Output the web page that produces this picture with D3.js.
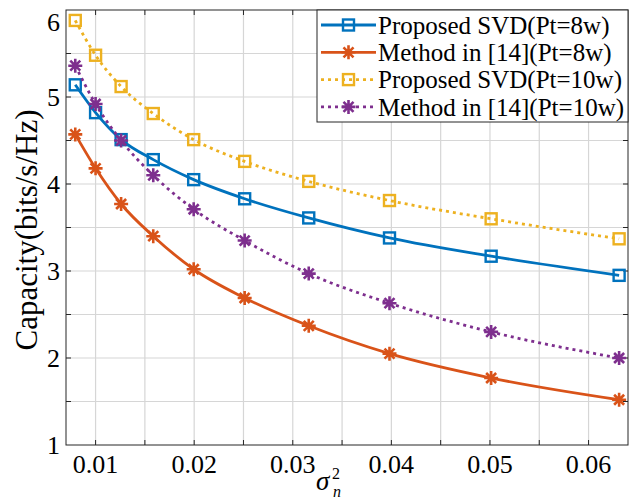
<!DOCTYPE html>
<html>
<head>
<meta charset="utf-8">
<script src="https://cdn.jsdelivr.net/npm/d3@7"></script>
<style>
  body { margin: 0; background: #fff; }
</style>
</head>
<body>
<svg id="chart" width="640" height="500"></svg>
<script>
// noise variance (sigma_n^2), 21 dB .. 12 dB
var noiseVar = [0.00794, 0.01, 0.01259, 0.01585, 0.01995, 0.02512, 0.03162, 0.03981, 0.05012, 0.0631];
var svd8  = [5.14, 4.82, 4.51, 4.28, 4.05, 3.83, 3.61, 3.38, 3.17, 2.95];
var ref8  = [4.57, 4.18, 3.77, 3.40, 3.02, 2.69, 2.37, 2.05, 1.77, 1.52];
var svd10 = [5.88, 5.48, 5.12, 4.81, 4.51, 4.26, 4.03, 3.81, 3.60, 3.37];
var ref10 = [5.36, 4.92, 4.50, 4.10, 3.71, 3.35, 2.97, 2.63, 2.30, 2.00];
var seriesNames = ["Proposed SVD(Pt=8w)", "Method in [14](Pt=8w)", "Proposed SVD(Pt=10w)", "Method in [14](Pt=10w)"];
var xTicks = [0.01, 0.02, 0.03, 0.04, 0.05, 0.06];
var yTicks = [1, 2, 3, 4, 5, 6];

var series = [
  {name: seriesNames[0], vals: svd8,  color: "#0072BD", dash: null,  marker: "square"},
  {name: seriesNames[1], vals: ref8,  color: "#D95319", dash: null,  marker: "star"},
  {name: seriesNames[2], vals: svd10, color: "#EDB120", dash: "3,4", marker: "square"},
  {name: seriesNames[3], vals: ref10, color: "#7E2F8E", dash: "3,4", marker: "star"}
];

var FONT = "Liberation Serif";
var svg = d3.select("#chart");
var L = 66, R = 628, T = 10, B = 445;

var x = d3.scaleLinear().domain([0.007, 0.064]).range([L, R]);
var y = d3.scaleLinear().domain([1, 6]).range([B, T]);

var gridX = d3.range(0.01, 0.0641, 0.005);
var gridY = d3.range(1.5, 6, 0.5);

// grid
svg.append("g").selectAll("line").data(gridX).join("line")
  .attr("x1", d => x(d)).attr("x2", d => x(d)).attr("y1", T).attr("y2", B)
  .attr("stroke", "#d6d6d6").attr("stroke-width", 1.2);
svg.append("g").selectAll("line").data(gridY).join("line")
  .attr("x1", L).attr("x2", R).attr("y1", d => y(d)).attr("y2", d => y(d))
  .attr("stroke", "#d6d6d6").attr("stroke-width", 1.2);

// inward ticks on all sides
var tk = 5;
var ticks = svg.append("g").attr("stroke", "#262626").attr("stroke-width", 1);
gridX.forEach(function(d) {
  ticks.append("line").attr("x1", x(d)).attr("x2", x(d)).attr("y1", B).attr("y2", B - tk);
  ticks.append("line").attr("x1", x(d)).attr("x2", x(d)).attr("y1", T).attr("y2", T + tk);
});
gridY.forEach(function(d) {
  ticks.append("line").attr("x1", L).attr("x2", L + tk).attr("y1", y(d)).attr("y2", y(d));
  ticks.append("line").attr("x1", R).attr("x2", R - tk).attr("y1", y(d)).attr("y2", y(d));
});

svg.append("rect").attr("x", L).attr("y", T).attr("width", R - L).attr("height", B - T)
  .attr("fill", "none").attr("stroke", "#262626").attr("stroke-width", 1);

// tick labels
svg.append("g").selectAll("text").data(xTicks).join("text")
  .attr("x", d => x(d)).attr("y", 473).attr("text-anchor", "middle")
  .attr("font-family", FONT).attr("font-size", 26).text(d => d.toFixed(2));
svg.append("g").selectAll("text").data(yTicks).join("text")
  .attr("x", 60).attr("y", d => Math.max(y(d), 22)).attr("dy", "0.35em").attr("text-anchor", "end")
  .attr("font-family", FONT).attr("font-size", 26).text(d => d);

// axis labels
svg.append("text").attr("transform", "translate(37,230) rotate(-90)")
  .attr("text-anchor", "middle").attr("font-family", FONT).attr("font-size", 31)
  .text("Capacity(bits/s/Hz)");
var xl = svg.append("g").attr("transform", "translate(316,490)");
xl.append("text").attr("font-family", FONT).attr("font-size", 27).attr("font-style", "italic").text("\u03C3");
xl.append("text").attr("x", 16).attr("y", -11).attr("font-family", FONT).attr("font-size", 16).text("2");
xl.append("text").attr("x", 17).attr("y", 7).attr("font-family", FONT).attr("font-size", 16)
  .attr("font-style", "italic").text("n");

function drawMarker(g, type, color) {
  if (type === "square") {
    g.append("rect").attr("x", -5.5).attr("y", -5.5).attr("width", 11).attr("height", 11)
      .attr("fill", "none").attr("stroke", color).attr("stroke-width", 2.4);
  } else {
    var r = 7, q = 5;
    g.append("path")
      .attr("d", "M0," + (-r) + "V" + r + "M" + (-r) + ",0H" + r +
        "M" + (-q) + "," + (-q) + "L" + q + "," + q + "M" + (-q) + "," + q + "L" + q + "," + (-q))
      .attr("stroke", color).attr("stroke-width", 2.6).attr("fill", "none");
  }
}

var line = d3.line().x((d, i) => x(noiseVar[i])).y(d => y(d)).curve(d3.curveMonotoneX);

series.forEach(function(s) {
  svg.append("path").datum(s.vals).attr("d", line)
    .attr("fill", "none").attr("stroke", s.color).attr("stroke-width", 2.8)
    .attr("stroke-dasharray", s.dash);
  s.vals.forEach(function(v, i) {
    drawMarker(svg.append("g").attr("transform", "translate(" + x(noiseVar[i]) + "," + y(v) + ")"),
      s.marker, s.color);
  });
});

// legend
var lg = svg.append("g");
lg.append("rect").attr("x", 317).attr("y", 10).attr("width", 311).attr("height", 112)
  .attr("fill", "#fff").attr("stroke", "#262626").attr("stroke-width", 1);
series.forEach(function(s, i) {
  var cy = 25 + i * 27.3;
  lg.append("line").attr("x1", 321).attr("x2", 376).attr("y1", cy).attr("y2", cy)
    .attr("stroke", s.color).attr("stroke-width", 2.8).attr("stroke-dasharray", s.dash);
  drawMarker(lg.append("g").attr("transform", "translate(348.5," + cy + ")"), s.marker, s.color);
  lg.append("text").attr("x", 378).attr("y", cy).attr("dy", "0.35em")
    .attr("font-family", FONT).attr("font-size", 25).text(s.name);
});
</script>
</body>
</html>
